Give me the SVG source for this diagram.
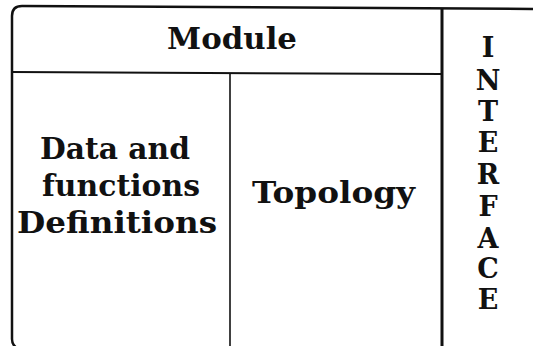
<svg xmlns="http://www.w3.org/2000/svg" width="533" height="346" viewBox="0 0 533 346">
  <style>
    .rule { fill: none; stroke: #111; stroke-linecap: butt; }
    .label { font-family: "DejaVu Serif", "Liberation Serif", serif; font-weight: bold; fill: #111; }
    .big { font-size: 30px; }
    .iface { font-size: 27px; text-anchor: middle; }
  </style>
  <rect width="533" height="346" fill="#fff"/>

  <!-- frame and dividing rules -->
  <g id="connectors">
    <path class="rule" stroke-width="2.5" d="M 533 9 L 22 6 Q 12 6 12 16 L 12 339 Q 12 345 17 348"/>
    <path class="rule" stroke-width="2" d="M 12 72 L 442 74"/>
    <path class="rule" stroke-width="1.6" d="M 230 73 L 230 346"/>
    <path class="rule" stroke-width="3" d="M 442 8 L 442 346"/>
  </g>

  <g id="module">
    <text class="label big" x="167" y="49" textLength="130" lengthAdjust="spacingAndGlyphs">Module</text>
  </g>

  <g id="data-functions">
    <text class="label big" x="40" y="159" textLength="150" lengthAdjust="spacingAndGlyphs">Data and</text>
    <text class="label big" x="42" y="196" textLength="158" lengthAdjust="spacingAndGlyphs">functions</text>
    <text class="label big" x="17" y="233" textLength="200" lengthAdjust="spacingAndGlyphs">Definitions</text>
  </g>

  <g id="topology">
    <text class="label big" x="252" y="203" textLength="163" lengthAdjust="spacingAndGlyphs">Topology</text>
  </g>

  <g id="interface">
    <text class="label iface" x="488" y="57">I</text>
    <text class="label iface" x="488" y="90">N</text>
    <text class="label iface" x="488" y="121">T</text>
    <text class="label iface" x="488" y="152">E</text>
    <text class="label iface" x="488" y="184">R</text>
    <text class="label iface" x="488" y="216">F</text>
    <text class="label iface" x="488" y="248">A</text>
    <text class="label iface" x="488" y="278">C</text>
    <text class="label iface" x="488" y="309">E</text>
  </g>
</svg>
